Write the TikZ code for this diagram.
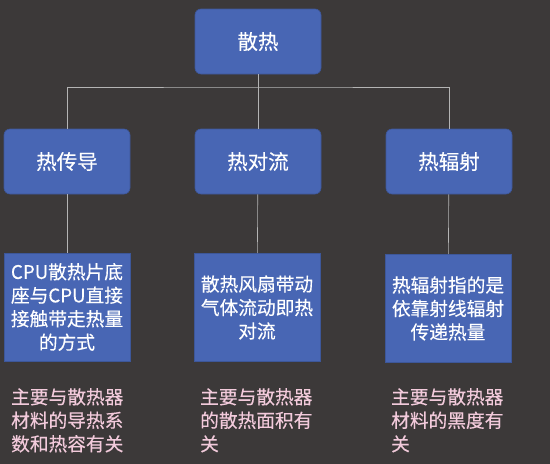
\documentclass[tikz,border=0pt]{standalone}
\usepackage{fontspec}
\setmainfont{Noto Sans CJK SC}[FakeBold=0.25,AutoFakeBold=0.25]
\definecolor{bgc}{HTML}{3C3939}
\definecolor{boxc}{HTML}{4866B4}
\definecolor{linec}{HTML}{B4B4B4}
\definecolor{pinkc}{HTML}{F2CADB}
\tikzset{
  headbox/.style={draw=boxc!85!black, line width=0.6pt, fill=boxc, rounded corners=6pt, minimum width=126pt, minimum height=65pt, inner sep=0pt, text=white, font=\fontsize{20.5}{24}\selectfont\bfseries},
  descbox/.style={draw=boxc!85!black, line width=0.6pt, fill=boxc, minimum width=126pt, minimum height=108pt, inner sep=0pt, text=white, align=center, font=\fontsize{18.7}{23.5}\selectfont\bfseries},
  note/.style={anchor=north west, inner sep=0pt, text=pinkc, align=left, font=\fontsize{18.7}{23.5}\selectfont\bfseries},
  conn/.style={draw=linec, line width=0.6pt}
}
\begin{document}
\begin{tikzpicture}[x=1pt,y=-1pt]
\fill[bgc] (0,0) rectangle (550,464);
\useasboundingbox (0,0) rectangle (550,464);
\node[headbox] (top) at (258,41.5) {散热};
\node[headbox] (b1) at (67,161.5) {热传导};
\node[headbox] (b2) at (258,161.5) {热对流};
\node[headbox] (b3) at (449,161.5) {热辐射};
\node[descbox] (c1) at (67,307) {CPU散热片底\\座与CPU直接\\接触带走热量\\的方式};
\node[descbox] (c2) at (257,307.5) {散热风扇带动\\气体流动即热\\对流};
\node[descbox] (c3) at (448,308.5) {热辐射指的是\\依靠射线辐射\\传递热量};
\coordinate (bus) at (258,87);
\draw[conn] (top) -- (b2);
\draw[conn] (b1.north) |- (bus) -| (b3.north);
\draw[conn] (b1) -- (c1);
\draw[conn] (b2) -- (c2);
\draw[conn] (b3) -- (c3);
\node[note] (n1) at (11,388) {主要与散热器\\材料的导热系\\数和热容有关};
\node[note] (n2) at (200,388) {主要与散热器\\的散热面积有\\关};
\node[note] (n3) at (391,388) {主要与散热器\\材料的黑度有\\关};
\end{tikzpicture}
\end{document}
